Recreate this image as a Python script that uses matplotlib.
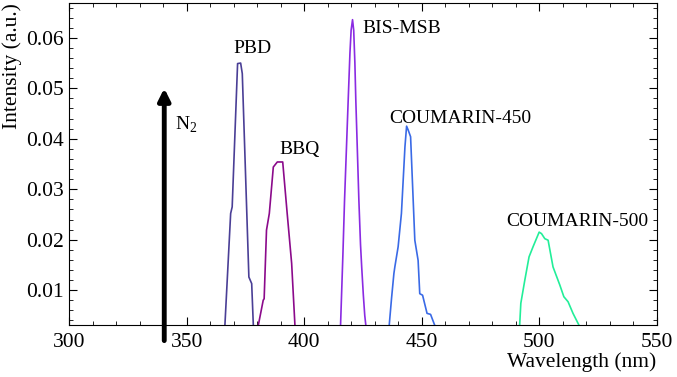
import numpy as np
import matplotlib
matplotlib.use("Agg")
import matplotlib.pyplot as plt
from matplotlib.ticker import MultipleLocator

plt.rcParams['font.family'] = ['Liberation Serif', 'DejaVu Serif']
plt.rcParams['mathtext.fontset'] = 'custom'
plt.rcParams['mathtext.rm'] = 'Liberation Serif'

# emission spectra (wavelength nm, intensity a.u.)
pbd_x = [364.0, 366.3, 368.75, 369.4, 371.7, 373.0, 373.7, 376.5, 377.7, 378.4, 380.0]
pbd_y = [0.0, 0.003, 0.0252, 0.0265, 0.0549, 0.0550, 0.0529, 0.0126, 0.0113, 0.003, 0.0]

bbq_x = [378.0, 380.5, 382.6, 383.0, 384.0, 385.2, 386.9, 388.6, 390.9, 392.8, 394.7, 396.1, 398.0]
bbq_y = [0.0, 0.003, 0.0080, 0.0083, 0.0219, 0.0252, 0.0344, 0.0354, 0.0354, 0.0252, 0.0153, 0.003, 0.0]

bis_x = [414.5, 415.5, 416.5, 417.2, 418.0, 418.75, 419.5, 420.0, 420.6, 421.1, 421.6,
         422.0, 422.7, 423.3, 424.0, 424.5, 425.2, 425.8, 426.5, 427.5]
bis_y = [0.0, 0.003, 0.017, 0.0278, 0.038, 0.0476, 0.057, 0.0615, 0.0636, 0.0615, 0.055,
         0.0476, 0.037, 0.0278, 0.019, 0.0146, 0.009, 0.005, 0.002, 0.0]

c450_x = [435.0, 436.2, 437.2, 438.2, 438.6, 440.0, 441.4, 442.9, 443.6, 444.3, 445.3,
          447.1, 448.5, 449.2, 450.4, 452.3, 453.8, 455.6, 457.0]
c450_y = [0.0, 0.003, 0.0084, 0.0133, 0.0146, 0.0186, 0.0252, 0.0384, 0.0425, 0.0417, 0.0404,
          0.0199, 0.0159, 0.0093, 0.0090, 0.0054, 0.0052, 0.003, 0.0]

c500_x = [491.0, 491.7, 492.2, 493.9, 495.7, 497.4, 500.0, 501.0, 502.4, 503.8, 505.9,
          508.8, 510.5, 512.3, 514.4, 517.0, 519.0]
c500_y = [0.0, 0.003, 0.0074, 0.012, 0.0166, 0.0186, 0.0215, 0.0212, 0.0202, 0.0199, 0.0146,
          0.0110, 0.0087, 0.0077, 0.0054, 0.003, 0.0]

n2_line = 340.5
n2_tip = 0.0500

fig = plt.figure(figsize=(6.77, 3.77), dpi=100)
ax = fig.add_axes([0.102, 0.138, 0.868, 0.854])

ax.plot(pbd_x, pbd_y, color='#4a3f96', lw=1.2)
ax.plot(bbq_x, bbq_y, color='#8b0a8b', lw=1.2)
ax.plot(bis_x, bis_y, color='#8a2be2', lw=1.2)
ax.plot(c450_x, c450_y, color='#3a6ae6', lw=1.2)
ax.plot(c500_x, c500_y, color='#22ee99', lw=1.2)

ax.annotate('', xy=(n2_line, n2_tip), xytext=(n2_line, 0.0),
            arrowprops=dict(arrowstyle='-|>,head_length=0.7,head_width=0.35',
                            color='black', lw=3.5, shrinkA=0, shrinkB=0))

lab = dict(fontsize=14, ha='center', va='center')
ax.text(378.2, 0.0579, 'PBD', **lab)
ax.text(398.2, 0.0379, 'BBQ', **lab)
ax.text(441.4, 0.0619, 'BIS-MSB', **lab)
ax.text(466.3, 0.0441, 'COUMARIN-450', **lab)
ax.text(516.3, 0.0237, 'COUMARIN-500', **lab)
ax.text(345.2, 0.0428, 'N$_2$', fontsize=14, ha='left', va='center')

ax.set_xlim(300, 550)
ax.set_ylim(0.0031, 0.0669)
ax.set_xticks([300, 350, 400, 450, 500, 550])
ax.set_yticks([0.01, 0.02, 0.03, 0.04, 0.05, 0.06])
ax.set_yticklabels(['0.01', '0.02', '0.03', '0.04', '0.05', '0.06'])
ax.xaxis.set_minor_locator(MultipleLocator(10))
ax.yaxis.set_minor_locator(MultipleLocator(0.002))
ax.tick_params(which='both', direction='in', top=True, right=True, labelsize=15.5)
ax.tick_params(which='major', length=6, width=0.8)
ax.tick_params(which='minor', length=3, width=0.6)
ax.tick_params(axis='x', pad=6)

ax.set_xlabel('Wavelength (nm)', fontsize=15.5, loc='right', labelpad=0)
ax.set_ylabel('Intensity (a.u.)', fontsize=15.5, loc='top', labelpad=3)

fig.savefig('out.png', dpi=100)
